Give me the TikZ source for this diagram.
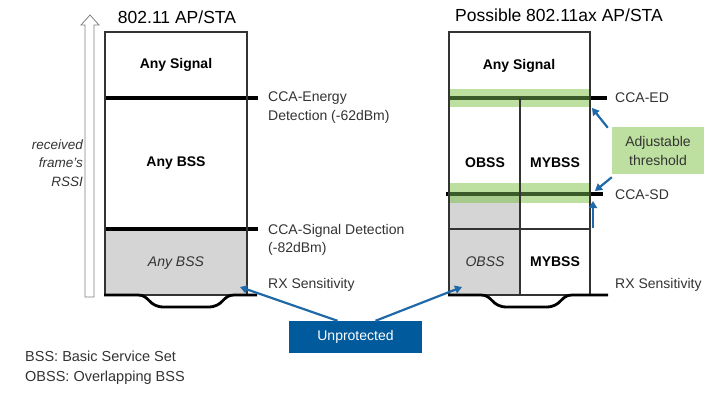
\documentclass[tikz,border=0pt]{standalone}
\usepackage{fontspec}
\setmainfont{Liberation Sans}
\usetikzlibrary{arrows.meta,positioning}
\definecolor{cisco_blue}{HTML}{005A9C}
\definecolor{arrow_blue}{HTML}{1F69A8}
\definecolor{band_green}{HTML}{BDE0A0}
\definecolor{band_dark}{HTML}{A6C98C}
\definecolor{line_green}{HTML}{3A5A2A}
\definecolor{cell_grey}{HTML}{D5D5D5}
\definecolor{text_grey}{HTML}{333333}
\tikzset{
        % Column frames and grid
        frame_line/.style={draw=text_grey, line width=1.3pt},
        % Threshold levels
        threshold_line/.style={draw=black, line width=3.2pt},
        % Adjustable bands
        band/.style={fill=band_green},
        % Bottom of the columns
        tub_line/.style={draw=black, line width=2.8pt},
        % Texts
        title_text/.style={inner sep=0pt, text=black, font=\fontsize{17.5}{20}\selectfont},
        cell_text/.style={inner sep=0pt, text=black, font=\bfseries\fontsize{14}{17}\selectfont},
        cell_italic/.style={inner sep=0pt, text=text_grey, font=\itshape\fontsize{14}{17}\selectfont},
        side_label/.style={inner sep=0pt, anchor=west, align=left, text=text_grey, font=\fontsize{14}{18.5}\selectfont},
        % Callouts
        callout_blue/.style={fill=cisco_blue, text=white, minimum width=133pt, minimum height=32pt, font=\fontsize{14}{17}\selectfont},
        callout_green/.style={fill=band_green, text=text_grey, align=center, minimum width=92pt, minimum height=47pt, inner sep=0pt, font=\fontsize{14}{19}\selectfont},
        pointer/.style={draw=arrow_blue, line width=2.2pt, -{Triangle[length=7pt,width=8pt]}}
}
\begin{document}
\begin{tikzpicture}[x=1pt, y=-1pt]
    \useasboundingbox (0,0) rectangle (717,401);

    % RSSI axis
    \draw[draw=gray, line width=0.8pt, fill=white]
        (85,297) -- (85,25) -- (81,25) -- (90,15) -- (99,25) -- (94,25) -- (94,297) -- cycle;
    \node[inner sep=0pt, align=right, anchor=east, text=text_grey,
          font=\itshape\fontsize{13.5}{18.5}\selectfont] (rssi) at (83,163) {received\\frame's\\RSSI};

    % Left column: 802.11 AP/STA
    \fill[cell_grey] (105,229) rectangle (247,295);
    \draw[threshold_line] (105,98) -- (258,98);
    \draw[threshold_line] (105,229) -- (258,229);
    \draw[frame_line] (105,32) rectangle (247,295);
    \draw[tub_line] (104,295) -- (138,295) .. controls (150,295) and (148,307) .. (164,307)
        -- (208,307) .. controls (224,307) and (222,295) .. (234,295) -- (257,295);
    \node[title_text] (title_left) at (177,17) {802.11 AP/STA};
    \node[cell_text] (any_signal_l) at (176,65) {Any Signal};
    \node[cell_text] (any_bss_l) at (176,163) {Any BSS};
    \node[cell_italic] (any_bss_low) at (176,263) {Any BSS};
    \node[side_label] (cca_ed_l) at (268,107.5) {CCA-Energy\\Detection (-62dBm)};
    \node[side_label, font=\fontsize{14}{18}\selectfont] (cca_sd_l) at (268,240) {CCA-Signal Detection\\(-82dBm)};
    \node[side_label] (rx_l) at (268,285) {RX Sensitivity};

    % Right column: possible 802.11ax AP/STA
    \fill[cell_grey] (449,194) rectangle (520,295);
    \fill[band] (449,89) rectangle (590,107);
    \fill[band] (449,183) rectangle (590,203);
    \fill[band_dark] (449,194) rectangle (520,203);
    \draw[threshold_line] (590,98) -- (607,98);
    \draw[threshold_line] (446,194) -- (449,194) (590,194) -- (603,194);
    \draw[threshold_line, draw=line_green] (449,98) -- (590,98);
    \draw[threshold_line, draw=line_green] (449,194) -- (590,194);
    \draw[frame_line] (449,32) rectangle (590,295);
    \draw[frame_line] (520,98) -- (520,295);
    \draw[frame_line] (449,229) -- (590,229);
    \draw[tub_line] (448,295) -- (481,295) .. controls (493,295) and (491,307) .. (507,307)
        -- (546,307) .. controls (562,307) and (560,295) .. (572,295) -- (608,295);
    \node[title_text] (title_right) at (559,15) {Possible 802.11ax AP/STA};
    \node[cell_text] (any_signal_r) at (519,66) {Any Signal};
    \node[cell_text] (obss_hi) at (485,163) {OBSS};
    \node[cell_text] (mybss_hi) at (555,163) {MYBSS};
    \node[cell_italic] (obss_low) at (485,262) {OBSS};
    \node[cell_text] (mybss_low) at (555,262) {MYBSS};
    \node[side_label] (cca_ed_r) at (615,98) {CCA-ED};
    \node[side_label] (cca_sd_r) at (615,195) {CCA-SD};
    \node[side_label] (rx_r) at (615,285) {RX Sensitivity};

    % Adjustable threshold callout
    \node[callout_green] (adjust) at (658,150.5) {Adjustable\\threshold};
    \coordinate (ed_hit) at (592,108);
    \coordinate (sd_hit) at (595,191);
    \coordinate (sd_foot) at (593,228);
    \coordinate (sd_top) at (593,201);
    \draw[pointer] ([xshift=-4pt,yshift=-1pt]adjust.north west) -- (ed_hit);
    \draw[pointer] ([yshift=-3pt]adjust.south west) -- (sd_hit);
    \draw[pointer] (sd_foot) -- (sd_top);

    % Unprotected callout
    \node[callout_blue] (unprot) at (355.5,337) {Unprotected};
    \coordinate (left_hit) at (240,287);
    \coordinate (right_hit) at (462,287);
    \draw[pointer] ([xshift=-18pt]unprot.north) -- (left_hit);
    \draw[pointer] ([xshift=20pt]unprot.north) -- (right_hit);

    % Legend
    \node[side_label, font=\fontsize{14.5}{20}\selectfont] (legend) at (25,368)
        {BSS: Basic Service Set\\OBSS: Overlapping BSS};
\end{tikzpicture}
\end{document}
